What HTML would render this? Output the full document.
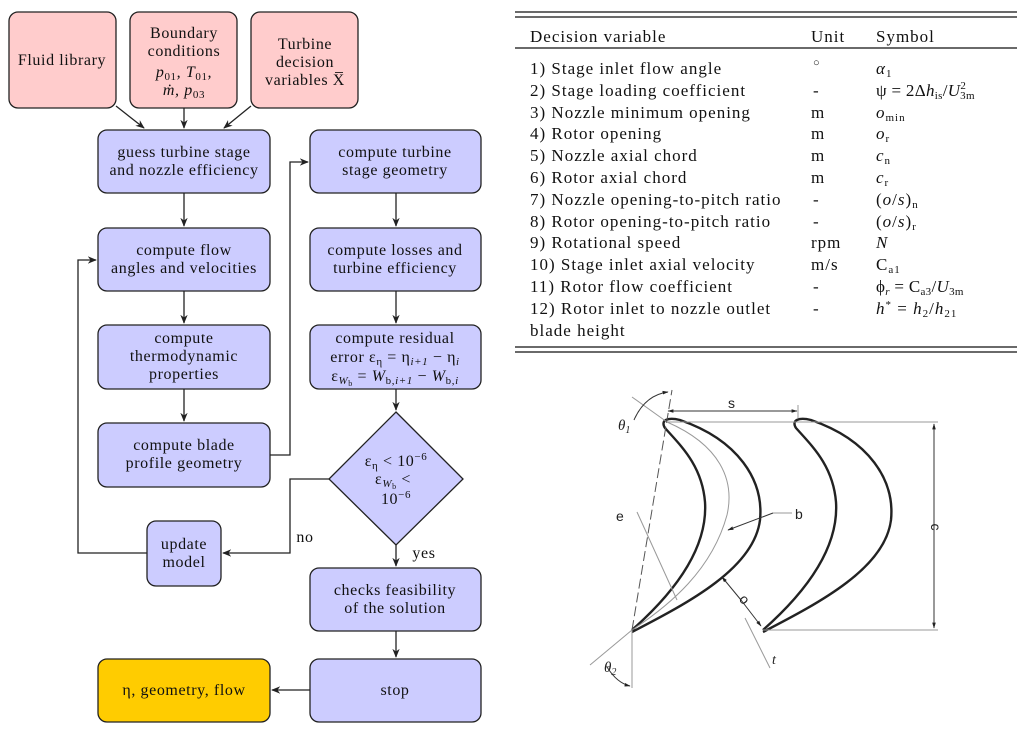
<!DOCTYPE html>
<html><head><meta charset="utf-8"><style>
html,body{margin:0;padding:0;background:#fff;}
svg{display:block;font-family:"Liberation Serif",serif;}
.t{font-size:16px;fill:#111;letter-spacing:0.6px;}
.bx{stroke:#222;stroke-width:1.3;}
.ln{stroke:#222;stroke-width:1.3;fill:none;}
.tb{font-size:17px;fill:#111;letter-spacing:1px;}
.s{font-family:"Liberation Sans",sans-serif;font-size:14px;fill:#222;}
</style></head><body>
<svg width="1024" height="735" viewBox="0 0 1024 735" xmlns="http://www.w3.org/2000/svg">
<defs><marker id="a" viewBox="0 0 10 10" refX="9" refY="5" markerWidth="7" markerHeight="7" orient="auto"><path d="M0,1 L10,5 L0,9 L3,5 Z" fill="#222"/></marker>
<marker id="b" viewBox="0 0 10 10" refX="9" refY="5" markerWidth="6" markerHeight="6" orient="auto"><path d="M0,2 L10,5 L0,8 Z" fill="#222"/></marker></defs>

<g fill="#ffcccc" class="bx">
<rect x="9" y="12" width="107" height="96" rx="9"/>
<rect x="130" y="12" width="107" height="96" rx="9"/>
<rect x="251" y="12" width="107" height="96" rx="9"/>
</g>
<g class="t" text-anchor="middle">
<text x="62" y="65">Fluid library</text>
<text x="184" y="38">Boundary</text><text x="184" y="56">conditions</text>
<text x="184" y="77" font-style="italic">p<tspan font-size="11" dy="3" font-style="normal">01</tspan><tspan dy="-3">, T</tspan><tspan font-size="11" dy="3" font-style="normal">01</tspan><tspan dy="-3">,</tspan></text>
<text x="184" y="95" font-style="italic">ṁ, p<tspan font-size="11" dy="3" font-style="normal">03</tspan></text>
<text x="305" y="49">Turbine</text><text x="305" y="67">decision</text><text x="305" y="85">variables X̅</text>
</g>

<g fill="#ccccff" class="bx">
<rect x="98" y="130" width="172" height="63" rx="9"/>
<rect x="98" y="228" width="172" height="63" rx="9"/>
<rect x="98" y="325" width="172" height="64" rx="9"/>
<rect x="98" y="423" width="172" height="64" rx="9"/>
<rect x="310" y="130" width="171" height="63" rx="9"/>
<rect x="310" y="228" width="171" height="63" rx="9"/>
<rect x="310" y="325" width="171" height="64" rx="9"/>
<path d="M396,412 L463,479 L396,545 L329,479 Z"/>
<rect x="147" y="521" width="74" height="65" rx="9"/>
<rect x="310" y="568" width="171" height="63" rx="9"/>
<rect x="310" y="659" width="171" height="63" rx="9"/>
</g>
<rect x="98" y="659" width="172" height="63" rx="9" fill="#ffcc00" class="bx"/>

<g class="t" text-anchor="middle">
<text x="184" y="157">guess turbine stage</text><text x="184" y="175">and nozzle efficiency</text>
<text x="184" y="255">compute flow</text><text x="184" y="273">angles and velocities</text>
<text x="184" y="343">compute</text><text x="184" y="361">thermodynamic</text><text x="184" y="379">properties</text>
<text x="184" y="450">compute blade</text><text x="184" y="468">profile geometry</text>
<text x="395" y="157">compute turbine</text><text x="395" y="175">stage geometry</text>
<text x="395" y="255">compute losses and</text><text x="395" y="273">turbine efficiency</text>
<text x="395" y="343">compute residual</text>
<text x="395" y="362">error ε<tspan font-size="11" dy="3">η</tspan><tspan dy="-3"> = η</tspan><tspan font-size="11" dy="3" font-style="italic">i+1</tspan><tspan dy="-3"> − η</tspan><tspan font-size="11" dy="3" font-style="italic">i</tspan></text>
<text x="395" y="381">ε<tspan font-size="11" dy="3" font-style="italic">W</tspan><tspan font-size="8" dy="2">b</tspan><tspan dy="-5"> = </tspan><tspan font-style="italic">W</tspan><tspan font-size="11" dy="3">b,</tspan><tspan font-size="11" font-style="italic">i+1</tspan><tspan dy="-3"> − </tspan><tspan font-style="italic">W</tspan><tspan font-size="11" dy="3">b,</tspan><tspan font-size="11" font-style="italic">i</tspan></text>
<text x="396" y="466">ε<tspan font-size="11" dy="3">η</tspan><tspan dy="-3"> &lt; 10</tspan><tspan font-size="11" dy="-6">−6</tspan></text>
<text x="393" y="484">ε<tspan font-size="11" dy="3" font-style="italic">W</tspan><tspan font-size="8" dy="2">b</tspan><tspan dy="-5"> &lt;</tspan></text>
<text x="396" y="504">10<tspan font-size="11" dy="-6">−6</tspan></text>
<text x="184" y="549">update</text><text x="184" y="567">model</text>
<text x="395" y="595">checks feasibility</text><text x="395" y="613">of the solution</text>
<text x="395" y="695">stop</text>
<text x="184" y="695">η, geometry, flow</text>
<text x="305" y="542">no</text>
<text x="424" y="558">yes</text>
</g>

<g class="ln" marker-end="url(#a)">
<line x1="116" y1="106" x2="144" y2="128"/>
<line x1="184" y1="108" x2="184" y2="128"/>
<line x1="251" y1="106" x2="224" y2="128"/>
<line x1="184" y1="193" x2="184" y2="226"/>
<line x1="184" y1="291" x2="184" y2="323"/>
<line x1="184" y1="389" x2="184" y2="421"/>
<line x1="396" y1="193" x2="396" y2="226"/>
<line x1="396" y1="291" x2="396" y2="323"/>
<line x1="396" y1="389" x2="396" y2="410"/>
<line x1="396" y1="545" x2="396" y2="566"/>
<line x1="396" y1="631" x2="396" y2="657"/>
<line x1="310" y1="690" x2="272" y2="690"/>
<polyline points="270,455 290,455 290,162 308,162"/>
<polyline points="147,553 78,553 78,260 96,260"/>
<polyline points="329,479 290,479 290,553 223,553"/>
</g>

<g stroke="#111" stroke-width="1.2">
<line x1="515" y1="12" x2="1017" y2="12"/><line x1="515" y1="17" x2="1017" y2="17"/>
<line x1="515" y1="48" x2="1017" y2="48"/>
<line x1="515" y1="347" x2="1017" y2="347"/><line x1="515" y1="352" x2="1017" y2="352"/>
</g>
<g class="tb">
<text x="530" y="42">Decision variable</text><text x="811" y="42">Unit</text><text x="876" y="42">Symbol</text>
<text x="530" y="74">1) Stage inlet flow angle</text><text x="813" y="66" font-size="11">○</text><text x="876" y="74" font-style="italic">α<tspan font-size="11" dy="3" font-style="normal">1</tspan></text>
<text x="530" y="96">2) Stage loading coefficient</text><text x="813" y="96">-</text><text x="876" y="96" letter-spacing="0.3">ψ = 2Δ<tspan font-style="italic">h</tspan><tspan font-size="11" dy="3">is</tspan><tspan dy="-3">/</tspan><tspan font-style="italic">U</tspan><tspan font-size="11" dy="-7">2</tspan><tspan font-size="11" dx="-6" dy="10">3m</tspan></text>
<text x="530" y="118">3) Nozzle minimum opening</text><text x="811" y="118">m</text><text x="876" y="118" font-style="italic">o<tspan font-size="11" dy="3" font-style="normal">min</tspan></text>
<text x="530" y="139">4) Rotor opening</text><text x="811" y="139">m</text><text x="876" y="139" font-style="italic">o<tspan font-size="11" dy="3" font-style="normal">r</tspan></text>
<text x="530" y="161">5) Nozzle axial chord</text><text x="811" y="161">m</text><text x="876" y="161" font-style="italic">c<tspan font-size="11" dy="3" font-style="normal">n</tspan></text>
<text x="530" y="183">6) Rotor axial chord</text><text x="811" y="183">m</text><text x="876" y="183" font-style="italic">c<tspan font-size="11" dy="3" font-style="normal">r</tspan></text>
<text x="530" y="205">7) Nozzle opening-to-pitch ratio</text><text x="813" y="205">-</text><text x="876" y="205">(<tspan font-style="italic">o</tspan>/<tspan font-style="italic">s</tspan>)<tspan font-size="11" dy="3">n</tspan></text>
<text x="530" y="227">8) Rotor opening-to-pitch ratio</text><text x="813" y="227">-</text><text x="876" y="227">(<tspan font-style="italic">o</tspan>/<tspan font-style="italic">s</tspan>)<tspan font-size="11" dy="3">r</tspan></text>
<text x="530" y="248">9) Rotational speed</text><text x="811" y="248">rpm</text><text x="876" y="248" font-style="italic">N</text>
<text x="530" y="270">10) Stage inlet axial velocity</text><text x="811" y="270">m/s</text><text x="876" y="270">C<tspan font-size="11" dy="3">a1</tspan></text>
<text x="530" y="292">11) Rotor flow coefficient</text><text x="813" y="292">-</text><text x="876" y="292" letter-spacing="0.3">ϕ<tspan font-size="11" dy="3" font-style="italic">r</tspan><tspan dy="-3"> = C</tspan><tspan font-size="11" dy="3">a3</tspan><tspan dy="-3">/</tspan><tspan font-style="italic">U</tspan><tspan font-size="11" dy="3">3m</tspan></text>
<text x="530" y="314">12) Rotor inlet to nozzle outlet</text><text x="813" y="314">-</text><text x="876" y="314"><tspan font-style="italic">h</tspan><tspan font-size="11" dy="-6">*</tspan><tspan dy="6"> = </tspan><tspan font-style="italic">h</tspan><tspan font-size="11" dy="3">2</tspan><tspan dy="-3">/</tspan><tspan font-style="italic">h</tspan><tspan font-size="11" dy="3">21</tspan></text>
<text x="530" y="336">blade height</text>
</g>

<g fill="none" stroke="#222" stroke-width="2.4">
<path d="M632,630 C675,592 708,548 705,502 C702,465 680,445 665,428 C660,420 668,417 680,420 C738,440 764,480 760,520 C754,568 690,602 632,632"/>
<path transform="translate(131,0)" d="M632,630 C675,592 708,548 705,502 C702,465 680,445 665,428 C660,420 668,417 680,420 C738,440 764,480 760,520 C754,568 690,602 632,632"/>
</g>
<g fill="none" stroke="#999" stroke-width="1">
<path d="M667,422 C720,445 735,480 727,515 C712,570 670,605 632,630"/>
<line x1="667" y1="422" x2="938" y2="422"/>
<line x1="763" y1="630" x2="938" y2="630"/>
<line x1="632" y1="630" x2="632" y2="688"/>
<line x1="632" y1="630" x2="590" y2="665"/>
<line x1="667" y1="422" x2="632" y2="397"/>
<line x1="637" y1="512" x2="677" y2="600"/>
<line x1="773" y1="513" x2="792" y2="513"/>
<line x1="798" y1="405" x2="798" y2="418"/>
<line x1="745" y1="618" x2="770" y2="668"/>
</g>
<line x1="632" y1="630" x2="672" y2="390" stroke="#555" stroke-width="1" stroke-dasharray="10,4"/>
<g stroke="#333" stroke-width="1" fill="none" marker-end="url(#b)">
<line x1="733" y1="411" x2="668" y2="411"/><line x1="733" y1="411" x2="797" y2="411"/>
<line x1="934" y1="527" x2="934" y2="424"/><line x1="934" y1="527" x2="934" y2="628"/>
<line x1="741" y1="600" x2="722" y2="577"/><line x1="741" y1="600" x2="761" y2="626"/>
<line x1="773" y1="513" x2="728" y2="530"/>
<path d="M634,420 Q645,395 668,392"/>
<path d="M607,667 Q617,683 630,686"/>
</g>
<g class="s">
<text x="728" y="408">s</text>
<text x="934" y="530" transform="rotate(90 934 527)" text-anchor="middle">c</text>
<text x="740" y="604" transform="rotate(50 744 600)">o</text>
<text x="616" y="521">e</text>
<text x="795" y="519">b</text>
<text x="618" y="430" font-family="Liberation Serif" font-style="italic" font-size="15">θ<tspan font-size="10" dy="3">1</tspan></text>
<text x="604" y="672" font-family="Liberation Serif" font-style="italic" font-size="15">θ<tspan font-size="10" dy="3">2</tspan></text>
<text x="772" y="664" font-family="Liberation Serif" font-style="italic">t</text>
</g>
</svg>
</body></html>
